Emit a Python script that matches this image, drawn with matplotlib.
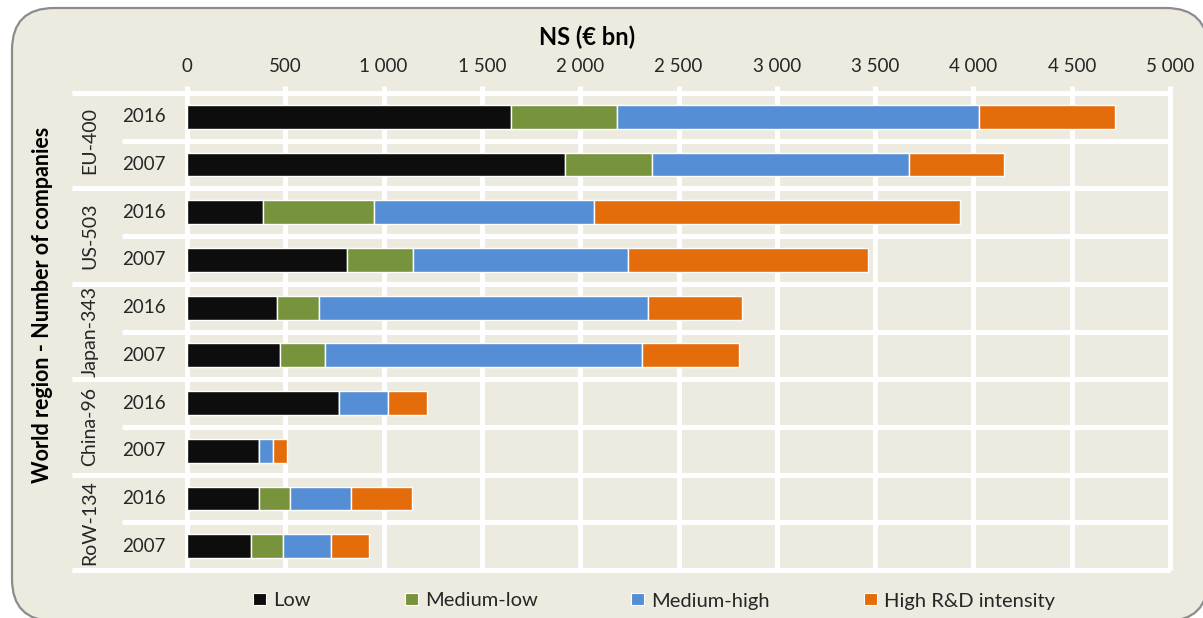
import matplotlib
matplotlib.use("Agg")
import matplotlib.pyplot as plt
import matplotlib.transforms as mtransforms
from matplotlib.patches import FancyBboxPatch, Patch
import numpy as np

plt.rcParams['font.family'] = ['Lato', 'DejaVu Sans']

# Rows, top to bottom
regions = ["EU-400", "US-503", "Japan-343", "China-96", "RoW-134"]
years = ["2016", "2007"]

# Net sales (EUR bn) by R&D intensity group, one value per row
low = [1646, 1921, 388, 812, 456, 473, 775, 368, 368, 324]
medium_low = [543, 444, 563, 339, 215, 230, 0, 0, 158, 163]
medium_high = [1838, 1309, 1121, 1092, 1674, 1610, 246, 68, 308, 245]
high = [695, 482, 1862, 1221, 480, 493, 201, 74, 309, 192]

series_names = ["Low", "Medium-low", "Medium-high", "High R&D intensity"]
series_colors = ["#0D0D0D", "#77933C", "#558ED5", "#E46C0A"]
x_ticks = list(range(0, 5001, 500))
x_tick_labels = ["0", "500", "1 000", "1 500", "2 000", "2 500", "3 000",
                 "3 500", "4 000", "4 500", "5 000"]

BG = "#EDEAE0"
TXT = "#262626"
W, H = 1203, 618
fig = plt.figure(figsize=(W / 100, H / 100), dpi=100)
fig.patch.set_facecolor("white")

# rounded chart frame
frame = FancyBboxPatch((12 / W, (H - 621) / H), (1208 - 12) / W, (621 - 8) / H,
                       boxstyle="round,pad=0,rounding_size=0.035",
                       transform=fig.transFigure, facecolor=BG,
                       edgecolor="#8C8C8C", linewidth=1.6,
                       mutation_aspect=W / H, zorder=-5)
fig.patches.append(frame)

left, right, top, bottom = 187, 1170, 93, 570
ax = fig.add_axes([left / W, 1 - bottom / H, (right - left) / W, (bottom - top) / H])
ax.set_zorder(1)
ax.patch.set_alpha(0)

n = len(low)
y = np.arange(n)
data = [np.array(low), np.array(medium_low), np.array(medium_high), np.array(high)]
base = np.zeros(n)
for vals, name, col in zip(data, series_names, series_colors):
    ax.barh(y, vals, left=base, height=0.5, color=col, edgecolor="white",
            linewidth=1.0, label=name, zorder=3)
    base = base + vals

ax.set_xlim(0, 5000)
ax.set_ylim(n - 0.5, -0.5)
for s in ax.spines.values():
    s.set_visible(False)

GRID_LW = 3.6
# vertical grid
for xv in x_ticks:
    ax.plot([xv, xv], [-0.5, n - 0.5], color="white", lw=GRID_LW,
            clip_on=False, zorder=1, solid_capstyle="butt")

# horizontal grid, extended into the label columns
blend = mtransforms.blended_transform_factory(ax.transAxes, ax.transData)
x_group = (72 - left) / (right - left)
x_row = (122 - left) / (right - left)
for b in np.arange(-0.5, n, 1.0):
    start = x_group if int(round(b + 0.5)) % 2 == 0 else x_row
    ax.plot([start, 1.0], [b, b], color="white", lw=GRID_LW, transform=blend,
            clip_on=False, zorder=1, solid_capstyle="butt")

ax.set_xticks(x_ticks)
ax.set_xticklabels(x_tick_labels, fontsize=13.5, color=TXT)
ax.xaxis.tick_top()
ax.tick_params(axis="x", top=True, bottom=False, labeltop=True, labelbottom=False,
               direction="out", length=5, width=GRID_LW, color="white", pad=8)
ax.set_yticks([])

# year and region labels
x_year = (144 - left) / (right - left)
x_region = (90 - left) / (right - left)
for i in range(n):
    ax.text(x_year, i, years[i % 2], transform=blend, ha="center", va="center",
            fontsize=13.5, color=TXT)
for g, reg in enumerate(regions):
    ax.text(x_region, 2 * g + 0.5, reg, transform=blend, ha="center", va="center",
            rotation=90, fontsize=14, color=TXT)

fig.text(587 / W, 1 - 37 / H, "NS (€ bn)", ha="center", va="center",
         fontsize=17, fontweight="bold", color="black")
fig.text(43 / W, 1 - 305 / H, "World region - Number of companies", ha="center",
         va="center", rotation=90, fontsize=15.5, fontweight="bold", color="black")

handles = [Patch(facecolor=c, edgecolor="white", linewidth=0.8) for c in series_colors]
fig.legend(handles, series_names, loc="center", ncol=4,
           bbox_to_anchor=(654 / W, 1 - 601 / H), frameon=False, fontsize=14.5,
           handlelength=0.65, handleheight=0.55, handletextpad=0.35,
           columnspacing=4.65, labelcolor=TXT)

fig.savefig("out.png", dpi=100, facecolor="white")
